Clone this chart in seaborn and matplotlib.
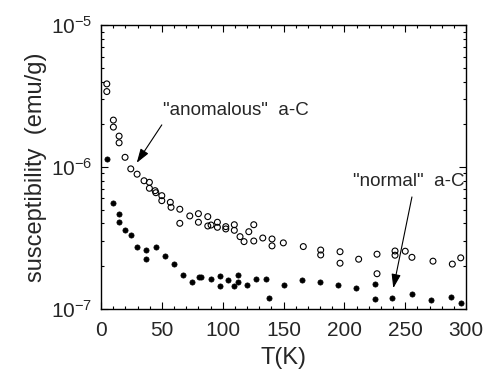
import numpy as np
import pandas as pd
import matplotlib
matplotlib.use("Agg")
import matplotlib.pyplot as plt
import matplotlib.ticker as mticker
import seaborn as sns

# ---- data ----
T_anom = [4.7, 4.7, 10.1, 10.1, 14.8, 14.8, 19.7, 24.4, 29.6, 35.3, 39.7, 39.7, 44.4, 45.0,
          49.9, 49.9, 56.9, 57.5, 64.7, 64.7, 72.9, 80.0, 80.0, 87.7, 87.7, 90.4, 95.6, 95.6,
          102.5, 102.5, 109.5, 109.5, 114.2, 117.5, 121.4, 125.5, 125.5, 132.9, 140.5, 140.5,
          149.8, 166.2, 180.5, 180.5, 196.4, 196.4, 211.7, 226.8, 226.8, 241.6, 241.6, 250.0,
          255.5, 272.8, 288.7, 295.6]
chi_anom = [3.85e-6, 3.40e-6, 2.14e-6, 1.91e-6, 1.65e-6, 1.48e-6, 1.17e-6, 9.7e-7, 8.9e-7,
            8.0e-7, 7.8e-7, 7.08e-7, 6.81e-7, 6.59e-7, 6.28e-7, 5.79e-7, 5.64e-7, 5.20e-7,
            5.04e-7, 4.01e-7, 4.52e-7, 4.69e-7, 4.08e-7, 4.47e-7, 3.84e-7, 3.90e-7, 4.08e-7,
            3.76e-7, 3.80e-7, 3.66e-7, 3.92e-7, 3.58e-7, 3.23e-7, 2.98e-7, 3.50e-7, 3.92e-7,
            3.01e-7, 3.16e-7, 3.11e-7, 2.78e-7, 2.92e-7, 2.75e-7, 2.60e-7, 2.40e-7, 2.53e-7,
            2.10e-7, 2.24e-7, 2.43e-7, 1.77e-7, 2.56e-7, 2.39e-7, 2.55e-7, 2.31e-7, 2.17e-7,
            2.07e-7, 2.29e-7]

T_norm = [5.2, 9.6, 14.8, 14.8, 20.0, 24.7, 29.8, 37.2, 37.2, 44.9, 52.3, 59.7, 67.6, 74.8,
          80.8, 82.2, 90.1, 97.5, 97.5, 104.6, 109.5, 112.3, 112.3, 119.7, 127.6, 135.3, 137.8,
          150.6, 165.2, 180.0, 194.5, 209.8, 224.9, 224.9, 239.4, 255.3, 270.9, 287.8, 295.8]
chi_norm = [1.13e-6, 5.61e-7, 4.64e-7, 4.12e-7, 3.58e-7, 3.30e-7, 2.72e-7, 2.59e-7, 2.24e-7,
            2.72e-7, 2.36e-7, 2.07e-7, 1.73e-7, 1.54e-7, 1.69e-7, 1.69e-7, 1.63e-7, 1.71e-7,
            1.45e-7, 1.60e-7, 1.45e-7, 1.73e-7, 1.56e-7, 1.48e-7, 1.63e-7, 1.63e-7, 1.19e-7,
            1.47e-7, 1.59e-7, 1.55e-7, 1.47e-7, 1.40e-7, 1.50e-7, 1.18e-7, 1.19e-7, 1.28e-7,
            1.15e-7, 1.22e-7, 1.10e-7]

x_ticks = [0, 50, 100, 150, 200, 250, 300]
y_ticks = [1e-7, 1e-6, 1e-5]
y_tick_labels = [r"$\mathregular{10^{-7}}$", r"$\mathregular{10^{-6}}$", r"$\mathregular{10^{-5}}$"]
x_label = "T(K)"
y_label = "susceptibility  (emu/g)"
anom_text = '"anomalous"  a-C'
norm_text = '"normal"  a-C'

df_a = pd.DataFrame({"T": T_anom, "chi": chi_anom})
df_n = pd.DataFrame({"T": T_norm, "chi": chi_norm})

sns.set_style("ticks")
plt.rcParams["font.family"] = ["Liberation Sans", "DejaVu Sans"]
plt.rcParams["mathtext.fontset"] = "custom"
plt.rcParams["mathtext.rm"] = "Liberation Sans"
plt.rcParams["mathtext.it"] = "Liberation Sans"

fig = plt.figure(figsize=(4.86, 3.74), dpi=100)
ax = fig.add_axes([0.208, 0.174, 0.751, 0.759])

sns.scatterplot(data=df_a, x="T", y="chi", ax=ax, marker="o", s=18,
                facecolor="none", edgecolor="black", linewidth=0.8)
sns.scatterplot(data=df_n, x="T", y="chi", ax=ax, marker="o", s=14,
                color="black", edgecolor="black", linewidth=0.5)

ax.set_yscale("log")
ax.set_xlim(0, 300)
ax.set_ylim(1e-7, 1e-5)
ax.set_xticks(x_ticks)
ax.set_xticklabels([str(v) for v in x_ticks])
ax.xaxis.set_minor_locator(mticker.MultipleLocator(10))
ax.set_yticks(y_ticks)
ax.set_yticklabels(y_tick_labels)
ax.yaxis.set_minor_locator(mticker.LogLocator(base=10, subs=np.arange(2, 10)))
ax.yaxis.set_minor_formatter(mticker.NullFormatter())

ax.tick_params(which="both", direction="in", top=True, right=True, width=0.8, color="black")
ax.tick_params(which="major", length=5, labelsize=15)
ax.tick_params(axis="x", which="major", pad=9)
ax.tick_params(axis="y", which="major", pad=6)
ax.tick_params(which="minor", length=2.5)
for sp in ax.spines.values():
    sp.set_linewidth(1.0)
    sp.set_color("black")

ax.set_xlabel(x_label, fontsize=17, labelpad=5)
ax.set_ylabel(y_label, fontsize=17, labelpad=3)

arrow = dict(arrowstyle="-|>,head_length=0.85,head_width=0.28", color="black", lw=0.8,
             shrinkA=0, shrinkB=0)
ax.annotate("", xy=(29.3, 1.07e-6), xytext=(49.9, 1.98e-6), arrowprops=arrow)
ax.text(50.7, 2.52e-6, anom_text, fontsize=13.5, ha="left", va="center")
ax.annotate("", xy=(240.2, 1.40e-7), xytext=(255.5, 6.15e-7), arrowprops=arrow)
ax.text(299, 7.84e-7, norm_text, fontsize=13.5, ha="right", va="center")

fig.savefig("out.png", dpi=100)
